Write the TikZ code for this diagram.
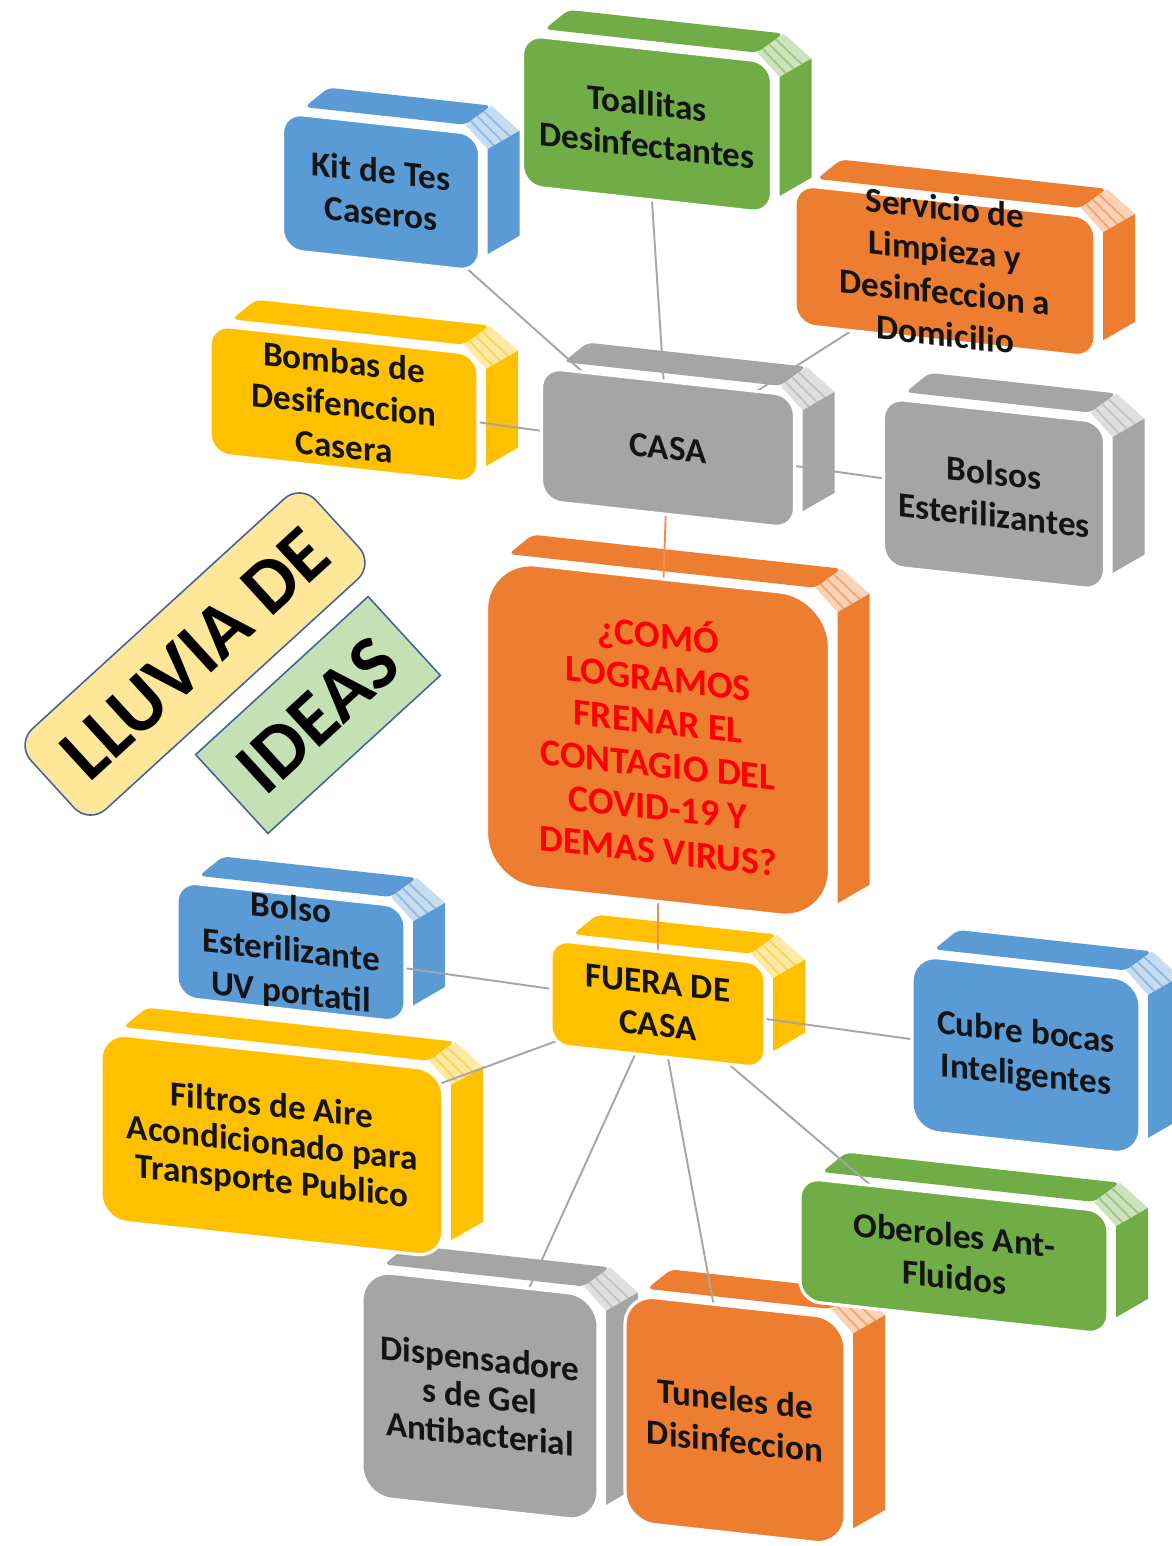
\documentclass[tikz,border=0pt]{standalone}
\usepackage{fontspec}
\setmainfont{Carlito}
\definecolor{cgreen}{HTML}{70AD47}
\definecolor{cblue}{HTML}{5B9BD5}
\definecolor{corange}{HTML}{ED7D31}
\definecolor{cyellow}{HTML}{FFC000}
\definecolor{cgray}{HTML}{A5A5A5}
\definecolor{linkgray}{HTML}{A6A6A6}
\definecolor{titleyellow}{HTML}{FFE699}
\definecolor{titlegreen}{HTML}{C5E0B4}
\definecolor{titleedge}{HTML}{41659C}
\pgfdeclarelayer{faces}
\pgfdeclarelayer{links}
\pgfsetlayers{faces,links,main}

\tikzset{
  boxtext/.style={align=center, text=black!92, font=\bfseries\fontsize{20}{24}\selectfont, inner sep=0pt},
  link/.style={draw=linkgray, line width=1.1pt},
  hub/.style={draw=corange!85!white, line width=1.1pt},
  title/.style={draw=titleedge, line width=0.9pt, font=\bfseries\fontsize{44}{50}\selectfont, inner sep=0pt},
}

% 3D block: [text options]{name}{cx}{cy}{width}{height}{colour}{corner radius}{text}
% all sizes in pixel units of the canvas (y measured downwards)
\newcommand\boxthree[9][]{%
 \begin{scope}[shift={(#3,-#4)}, yslant=-0.11]
  \begin{pgfonlayer}{faces}
   % top face
   \fill[#7, rounded corners=0.12cm] (-#5/2+22,#6/2+8) -- (-#5/2+46,#6/2+30) -- (#5/2+12,#6/2+30) -- (#5/2-14,#6/2+8) -- cycle;
   % striped corner between top and side
   \fill[#7!35!white] (#5/2-14,#6/2+8) -- (#5/2+12,#6/2+30) -- (#5/2+40,#6/2+8) -- (#5/2+8,#6/2-14) -- cycle;
   \foreach \t in {0.2,0.45,0.7}
     \draw[#7!70!white, line width=1pt] (#5/2-14+26*\t, #6/2+8+22*\t) -- (#5/2+8+32*\t, #6/2-14+22*\t);
   % side face
   \fill[#7] (#5/2+8,#6/2-14) -- (#5/2+40,#6/2+8) -- (#5/2+40,-#6/2+40) -- (#5/2+8,-#6/2+18) -- cycle;
  \end{pgfonlayer}
  % front face
  \fill[#7, draw=white, line width=1.8pt, rounded corners={#8*0.02cm}] (-#5/2,-#6/2) rectangle (#5/2,#6/2);
  \node[boxtext, transform shape, #1] (#2) at (0,0) {#9};
 \end{scope}}

\begin{document}
\begin{tikzpicture}[x=0.02cm, y=0.02cm]
\useasboundingbox (0,0) rectangle (1171,-1546);

% upper branch
\boxthree{toallitas}{647}{124}{249}{151}{cgreen}{20}{Toallitas\\Desinfectantes}
\boxthree{kit}{381}{192}{197}{137}{cblue}{20}{Kit de Tes\\Caseros}
\boxthree{servicio}{945}{271}{300}{140}{corange}{20}{Servicio de\\Limpieza y\\Desinfeccion a\\Domicilio}
\boxthree{bombas}{344}{404}{268}{129}{cyellow}{20}{Bombas de\\Desifenccion\\Casera}
\boxthree{casa}{668}{448}{253}{133}{cgray}{20}{CASA}
\boxthree{bolsos}{994}{494}{221}{168}{cgray}{20}{Bolsos\\Esterilizantes}

% central question
\boxthree[text=red, font=\bfseries\fontsize{21.5}{24.5}\selectfont]{pregunta}{658}{740}{343}{323}{corange}{50}{¿COMÓ\\LOGRAMOS\\FRENAR EL\\CONTAGIO DEL\\COVID-19 Y\\DEMAS VIRUS?}

% lower branch
\boxthree{fuera}{658}{1004}{214}{105}{cyellow}{18}{FUERA DE\\CASA}
\boxthree{bolsouv}{291}{952}{228}{116}{cblue}{20}{Bolso\\Esterilizante\\UV portatil}
\boxthree[font=\bfseries\fontsize{20}{21.5}\selectfont]{filtros}{272}{1145}{342}{187}{cyellow}{26}{Filtros de Aire\\Acondicionado para\\Transporte Publico}
\boxthree{cubre}{1026}{1055}{228}{175}{cblue}{26}{Cubre bocas\\Inteligentes}
\boxthree{oberoles}{954}{1256}{308}{123}{cgreen}{20}{Oberoles Ant-\\Fluidos}
\boxthree[font=\bfseries\fontsize{20}{21.5}\selectfont]{dispensadores}{480}{1396}{236}{226}{cgray}{30}{Dispensadore\\s de Gel\\Antibacterial}
\boxthree{tuneles}{735}{1420}{220}{227}{corange}{30}{Tuneles de\\Disinfeccion}

% connectors
\begin{pgfonlayer}{links}
 \draw[link] (casa.center) -- (kit.center);
 \draw[link] (casa.center) -- (toallitas.center);
 \draw[link] (casa.center) -- (servicio.center);
 \draw[link] (casa.center) -- (bombas.center);
 \draw[link] (casa.center) -- (bolsos.center);
 \draw[hub] (casa.center) -- (pregunta.center);
 \draw[hub] (pregunta.center) -- (fuera.center);
 \draw[link] (fuera.center) -- (bolsouv.center);
 \draw[link] (fuera.center) -- (filtros.center);
 \draw[link] (fuera.center) -- (cubre.center);
 \draw[link] (fuera.center) -- (oberoles.center);
 \draw[link] (fuera.center) -- (dispensadores.center);
 \draw[link] (fuera.center) -- (tuneles.center);
\end{pgfonlayer}

% title labels
\node[title, fill=titleyellow, rounded corners=0.45cm, rotate=42.4,
      minimum width=7.72cm, minimum height=2.18cm] (lluvia) at (195,-654) {LLUVIA DE};
\node[title, fill=titlegreen, rotate=42.5,
      minimum width=4.68cm, minimum height=2.14cm] (ideas) at (318,-715) {IDEAS};
\end{tikzpicture}
\end{document}
